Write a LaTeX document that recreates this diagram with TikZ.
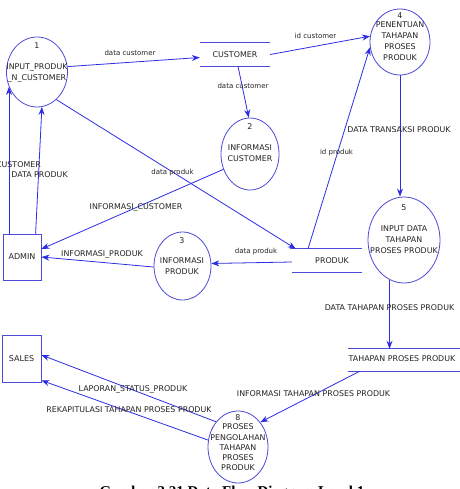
\documentclass[tikz,border=0pt]{standalone}
\usepackage{fontspec}
\setmainfont{DejaVu Sans}
\newfontfamily\capfont{Liberation Serif}
\usetikzlibrary{shapes.geometric,arrows.meta,calc}
\definecolor{dfdblue}{RGB}{45,45,225}
\definecolor{elblue}{RGB}{75,75,215}
\definecolor{txt}{RGB}{35,35,35}
\begin{document}
\begin{tikzpicture}[x=1pt,y=-1pt,
  proc/.style={ellipse,draw=elblue,line width=0.8pt,inner sep=0pt},
  ent/.style={rectangle,draw=elblue,line width=0.8pt,inner sep=0pt,text=txt,font=\fontsize{8}{10}\selectfont},
  store/.style={rectangle,draw=none,inner sep=0pt},
  storeline/.style={draw=elblue,line width=0.8pt},
  intext/.style={align=center,inner sep=0pt,text=txt,font=\fontsize{7.9}{10.5}\selectfont},
  up/.style={inner sep=0pt,text=txt,font=\fontsize{7.9}{10}\selectfont},
  lo/.style={inner sep=0pt,text=txt,font=\fontsize{7}{9}\selectfont},
  flow/.style={draw=dfdblue,line width=0.8pt,-{Stealth[length=8pt,width=6pt]}}
]
\useasboundingbox (0,0) rectangle (459,489);
\fill[white] (0,0) rectangle (459,489);

% processes
\node[proc,minimum width=61pt,minimum height=70pt] (e1) at (37,72) {};
\node[up] (n1) at (37,46) {1};
\node[intext] (t1) at (37,73) {INPUT\_PRODUK\\\_N\_CUSTOMER};

\node[proc,minimum width=60pt,minimum height=66pt] (e4) at (400,42) {};
\node[up] (n4) at (400,16) {4};
\node[intext,font=\fontsize{7.9}{11}\selectfont] (t4) at (400,41.5) {PENENTUAN\\TAHAPAN\\PROSES\\PRODUK};

\node[proc,minimum width=58pt,minimum height=72pt] (e2) at (250,154) {};
\node[up] (n2) at (250,127) {2};
\node[intext,font=\fontsize{7.9}{11}\selectfont] (t2) at (250,153.5) {INFORMASI\\CUSTOMER};

\node[proc,minimum width=72pt,minimum height=86pt] (e5) at (404,240) {};
\node[up] (n5) at (404,208) {5};
\node[intext,font=\fontsize{7.9}{11}\selectfont] (t5) at (404,240) {INPUT DATA\\TAHAPAN\\PROSES PRODUK};

\node[proc,minimum width=57pt,minimum height=68pt] (e3) at (182.5,266) {};
\node[up] (n3) at (182,241) {3};
\node[intext,font=\fontsize{7.9}{10.5}\selectfont] (t3) at (182,266) {INFORMASI\\PRODUK};

\node[proc,minimum width=60pt,minimum height=72pt] (e8) at (238,447) {};
\node[up] (n8) at (238,418) {8};
\node[intext,font=\fontsize{7.9}{10.2}\selectfont] (t8) at (238,447.5) {PROSES\\PENGOLAHAN\\TAHAPAN\\PROSES\\PRODUK};

% entities
\node[ent,minimum width=38pt,minimum height=46pt] (admin) at (22,257) {ADMIN};
\node[ent,minimum width=39pt,minimum height=47pt] (sales) at (21.5,358.5) {SALES};

% data stores
\node[store,minimum width=70pt,minimum height=23pt] (cust) at (235,54.5) {};
\node[up] (tc) at (235,54.5) {CUSTOMER};
\draw[storeline] (cust.north west) -- (cust.north east) (cust.south west) -- (cust.south east);

\node[store,minimum width=70pt,minimum height=23pt] (prod) at (327,260.5) {};
\node[up] (tp) at (332,261) {PRODUK};
\draw[storeline] ($(prod.north west)+(-2,0)$) -- (prod.north east) (prod.south west) -- (prod.south east);

\node[store,minimum width=114pt,minimum height=22pt] (tah) at (405,360) {};
\node[up] (tt) at (402,358.5) {TAHAPAN PROSES PRODUK};
\draw[storeline] (tah.north west) -- (tah.north east) (tah.south west) -- (tah.south east);

% flows
\draw[flow] (e1.10) -- ($(cust.west)+(0,3)$);
\draw[flow] (cust.east) -- (e4.169);
\draw[flow] ($(cust.south)+(3,0)$) -- (e2.92);
\draw[flow] ($(prod.north)+(-19,0)$) -- (e4.190);
\draw[flow] (e4.south) -- (e4.south |- e5.north);
\draw[flow] (e1.-55) -- ($(prod.north west)+(4,0)$);
\draw[flow] (e2.210) -- ($(admin.east)+(0,-8)$);
\draw[flow] ($(prod.west)+(0,1.5)$) -- (e3.5);
\draw[flow] (e3.182) -- (admin.east);
\draw[flow] (admin.north -| e1.208) -- (e1.208);
\draw[flow] ($(admin.north west)+(33,0)$) -- (e1.-82);
\draw[flow] (e5.250) -- (e5.250 |- tah.north);
\draw[flow] ($(tah.south west)+(12,0)$) -- (e8.48);
\draw[flow] (e8.131) -- ($(sales.east)+(0,-3.5)$);
\draw[flow] (e8.167) -- ($(sales.south east)+(0,-2)$);

% labels
\node[lo] (l1) at (130,53) {data customer};
\node[lo] (l2) at (315.5,36) {id customer};
\node[lo] (l3) at (243,86) {data customer};
\node[up] (l4) at (399,130) {DATA TRANSAKSI PRODUK};
\node[lo] (l5) at (336.5,153) {id produk};
\node[lo] (l6) at (172.5,173) {data produk};
\node[up] (l7) at (136,207) {INFORMASI\_CUSTOMER};
\node[up] (l8) at (102,254) {INFORMASI\_PRODUK};
\node[lo] (l9) at (256,252) {data produk};
\node[up,anchor=east] (l10) at (41,165) {DATA CUSTOMER};
\node[up] (l11) at (39.5,175) {DATA PRODUK};
\node[up] (l12) at (389.5,308) {DATA TAHAPAN PROSES PRODUK};
\node[up] (l13) at (313.5,394) {INFORMASI TAHAPAN PROSES PRODUK};
\node[up] (l14) at (133,389) {LAPORAN\_STATUS\_PRODUK};
\node[up] (l15) at (129,410) {REKAPITULASI TAHAPAN PROSES PRODUK};

% caption (cut off at the bottom edge)
\node[anchor=base,inner sep=0pt,text=black,font=\capfont\bfseries\fontsize{15}{18}\selectfont] (cap) at (232,496) {Gambar 3.21 Data Flow Diagram Level 1};
\end{tikzpicture}
\end{document}
